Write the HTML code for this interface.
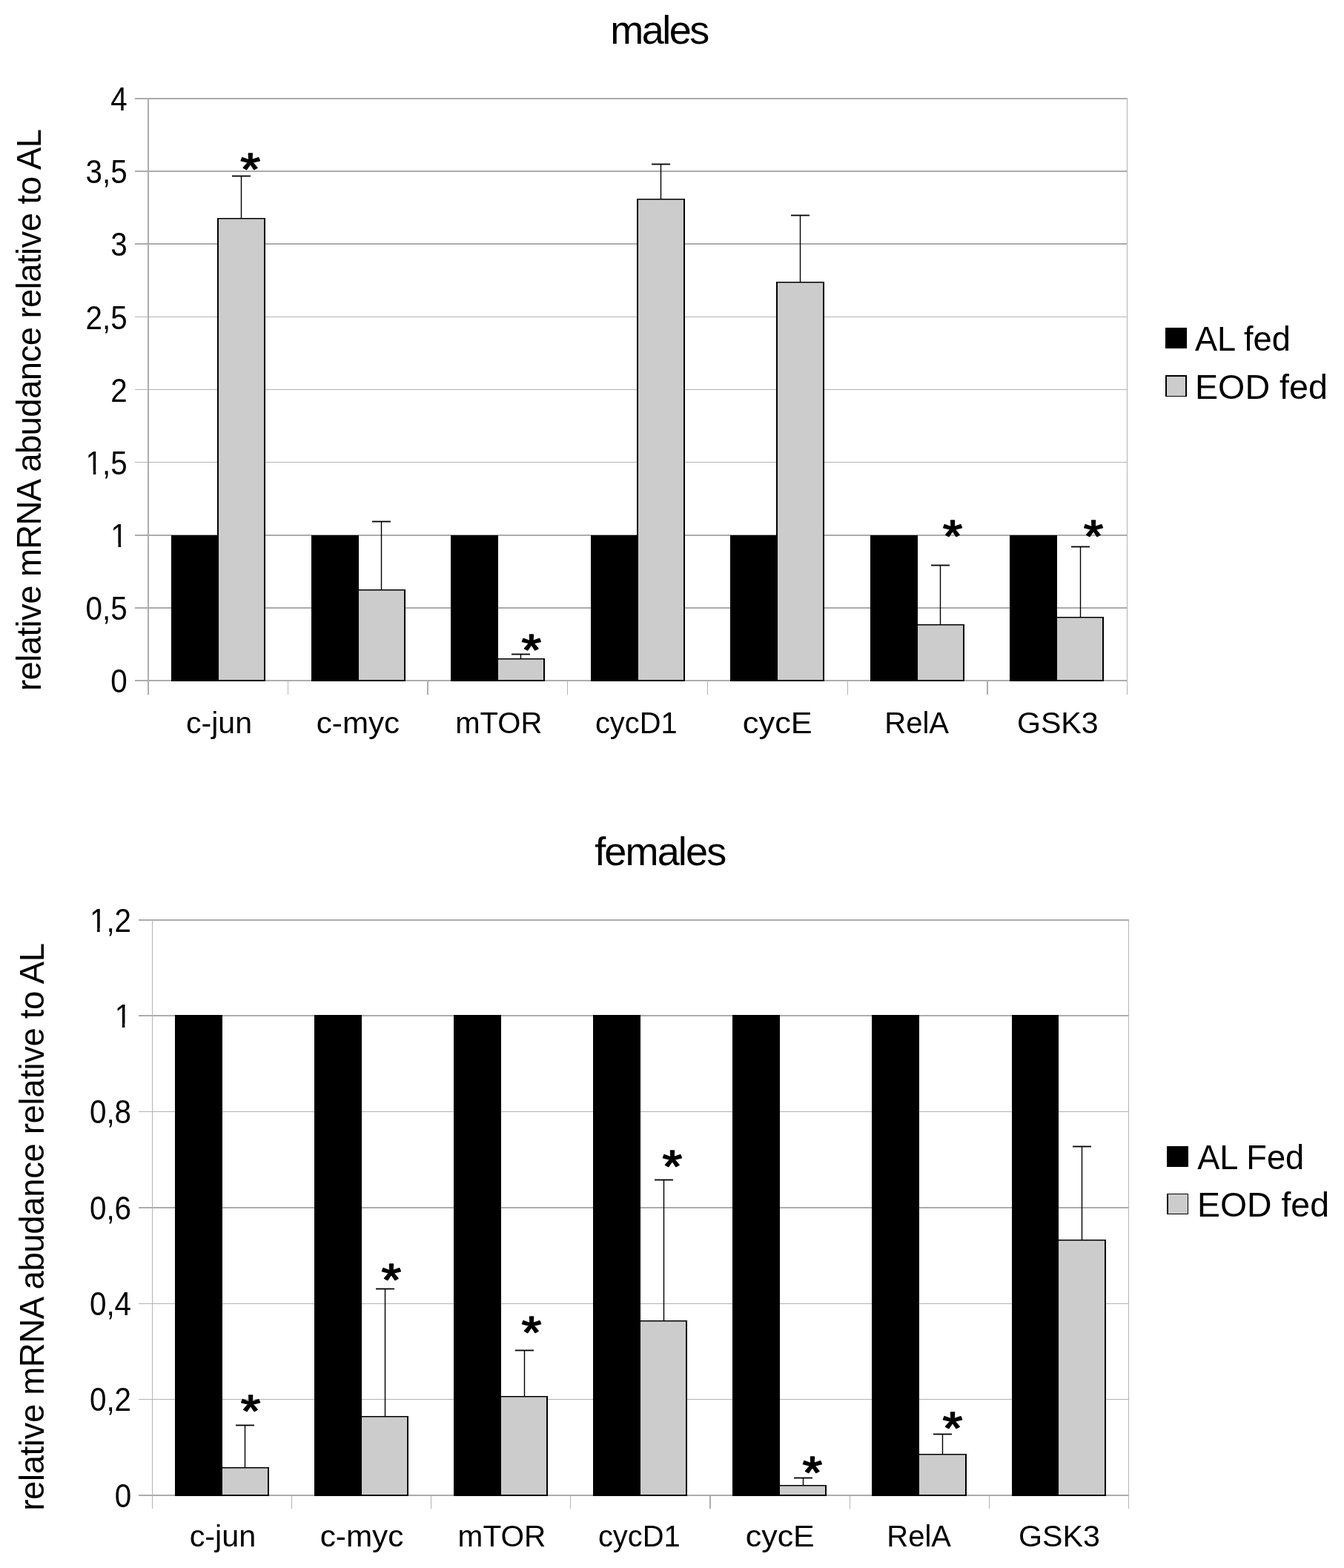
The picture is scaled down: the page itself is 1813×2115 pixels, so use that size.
<!DOCTYPE html>
<html><head><meta charset="utf-8"><title>males / females mRNA abundance</title>
<style>
html,body{margin:0;padding:0;background:#fff;}
body{width:1813px;height:2115px;overflow:hidden;}
svg{display:block;}
text{font-family:"Liberation Sans", Arial, sans-serif;fill:#000;}
</style></head>
<body>
<svg width="1813" height="2115" viewBox="0 0 1813 2115">
<rect x="0" y="0" width="1813" height="2115" fill="#fff"/>
<text x="823.21" y="58.80" font-size="54" textLength="133.94" lengthAdjust="spacing">males</text>
<text transform="translate(55.00,929.10) rotate(-90)" x="-3.02" y="0" font-size="45.5" textLength="758.13" lengthAdjust="spacing">relative mRNA abudance relative to AL</text>
<g shape-rendering="crispEdges">
<rect x="182.00" y="917.00" width="1339.00" height="2.00" fill="#acacac"/>
<rect x="182.00" y="819.00" width="1339.00" height="2.00" fill="#acacac"/>
<rect x="182.00" y="721.00" width="1339.00" height="2.00" fill="#acacac"/>
<rect x="182.00" y="623.00" width="1339.00" height="1.00" fill="#b3b3b3"/>
<rect x="182.00" y="525.00" width="1339.00" height="1.00" fill="#b3b3b3"/>
<rect x="182.00" y="427.00" width="1339.00" height="1.00" fill="#b3b3b3"/>
<rect x="182.00" y="328.00" width="1339.00" height="2.00" fill="#acacac"/>
<rect x="182.00" y="230.00" width="1339.00" height="2.00" fill="#acacac"/>
<rect x="182.00" y="132.00" width="1339.00" height="2.00" fill="#acacac"/>
<rect x="1520.00" y="132.00" width="1.00" height="805.00" fill="#b3b3b3"/>
<rect x="199.00" y="132.00" width="2.00" height="805.00" fill="#acacac"/>
<rect x="388.00" y="919.00" width="1.00" height="18.00" fill="#b3b3b3"/>
<rect x="576.00" y="919.00" width="2.00" height="18.00" fill="#acacac"/>
<rect x="765.00" y="919.00" width="1.00" height="18.00" fill="#b3b3b3"/>
<rect x="954.00" y="919.00" width="1.00" height="18.00" fill="#b3b3b3"/>
<rect x="1143.00" y="919.00" width="1.00" height="18.00" fill="#b3b3b3"/>
<rect x="1331.00" y="919.00" width="2.00" height="18.00" fill="#acacac"/>
</g>
<rect x="231.00" y="722.00" width="64.00" height="197.00" fill="#000"/>
<rect x="420.00" y="722.00" width="64.00" height="197.00" fill="#000"/>
<rect x="608.00" y="722.00" width="64.00" height="197.00" fill="#000"/>
<rect x="797.00" y="722.00" width="64.00" height="197.00" fill="#000"/>
<rect x="985.00" y="722.00" width="64.00" height="197.00" fill="#000"/>
<rect x="1174.00" y="722.00" width="64.00" height="197.00" fill="#000"/>
<rect x="1362.00" y="722.00" width="64.00" height="197.00" fill="#000"/>
<rect x="293.00" y="294.00" width="65.00" height="625.00" fill="#000"/>
<rect x="295.00" y="295.50" width="61.00" height="621.50" fill="#cccccc"/>
<line x1="325.50" y1="237.50" x2="325.50" y2="294.00" stroke="#000" stroke-width="1.4"/>
<line x1="313.00" y1="237.50" x2="338.00" y2="237.50" stroke="#000" stroke-width="1.8"/>
<rect x="482.00" y="795.00" width="65.00" height="124.00" fill="#000"/>
<rect x="484.00" y="796.50" width="61.00" height="120.50" fill="#cccccc"/>
<line x1="514.50" y1="703.50" x2="514.50" y2="795.00" stroke="#000" stroke-width="1.4"/>
<line x1="502.00" y1="703.50" x2="527.00" y2="703.50" stroke="#000" stroke-width="1.8"/>
<rect x="670.00" y="888.00" width="65.00" height="31.00" fill="#000"/>
<rect x="672.00" y="889.50" width="61.00" height="27.50" fill="#cccccc"/>
<line x1="702.50" y1="882.50" x2="702.50" y2="888.00" stroke="#000" stroke-width="1.4"/>
<line x1="690.00" y1="882.50" x2="715.00" y2="882.50" stroke="#000" stroke-width="1.8"/>
<rect x="859.00" y="268.00" width="65.00" height="651.00" fill="#000"/>
<rect x="861.00" y="269.50" width="61.00" height="647.50" fill="#cccccc"/>
<line x1="891.50" y1="221.50" x2="891.50" y2="268.00" stroke="#000" stroke-width="1.4"/>
<line x1="879.00" y1="221.50" x2="904.00" y2="221.50" stroke="#000" stroke-width="1.8"/>
<rect x="1047.00" y="380.00" width="65.00" height="539.00" fill="#000"/>
<rect x="1049.00" y="381.50" width="61.00" height="535.50" fill="#cccccc"/>
<line x1="1079.50" y1="290.50" x2="1079.50" y2="380.00" stroke="#000" stroke-width="1.4"/>
<line x1="1067.00" y1="290.50" x2="1092.00" y2="290.50" stroke="#000" stroke-width="1.8"/>
<rect x="1236.00" y="842.00" width="65.00" height="77.00" fill="#000"/>
<rect x="1238.00" y="843.50" width="61.00" height="73.50" fill="#cccccc"/>
<line x1="1268.50" y1="762.50" x2="1268.50" y2="842.00" stroke="#000" stroke-width="1.4"/>
<line x1="1256.00" y1="762.50" x2="1281.00" y2="762.50" stroke="#000" stroke-width="1.8"/>
<rect x="1424.00" y="832.00" width="65.00" height="87.00" fill="#000"/>
<rect x="1426.00" y="833.50" width="61.00" height="83.50" fill="#cccccc"/>
<line x1="1457.50" y1="737.50" x2="1457.50" y2="832.00" stroke="#000" stroke-width="1.4"/>
<line x1="1445.00" y1="737.50" x2="1470.00" y2="737.50" stroke="#000" stroke-width="1.8"/>
<text x="171.80" y="934.00" font-size="43.5" text-anchor="end" textLength="22.47" lengthAdjust="spacingAndGlyphs">0</text>
<text x="171.80" y="836.00" font-size="43.5" text-anchor="end" textLength="56.18" lengthAdjust="spacingAndGlyphs">0,5</text>
<clipPath id="c1_1"><rect x="144.33" y="694.50" width="32.47" height="38.75"/><rect x="159.49" y="729.30" width="3.57" height="9.70"/></clipPath>
<text x="171.80" y="738.00" font-size="43.5" text-anchor="end" textLength="22.47" lengthAdjust="spacingAndGlyphs" clip-path="url(#c1_1)">1</text>
<clipPath id="c1_2"><rect x="110.62" y="596.00" width="66.18" height="38.75"/><rect x="125.78" y="630.80" width="3.57" height="9.70"/><rect x="138.10" y="630.80" width="11.23" height="21.75"/><rect x="149.33" y="630.80" width="22.47" height="21.75"/></clipPath>
<text x="171.80" y="639.50" font-size="43.5" text-anchor="end" textLength="56.18" lengthAdjust="spacingAndGlyphs" clip-path="url(#c1_2)">1,5</text>
<text x="171.80" y="541.50" font-size="43.5" text-anchor="end" textLength="22.47" lengthAdjust="spacingAndGlyphs">2</text>
<text x="171.80" y="443.50" font-size="43.5" text-anchor="end" textLength="56.18" lengthAdjust="spacingAndGlyphs">2,5</text>
<text x="171.80" y="345.00" font-size="43.5" text-anchor="end" textLength="22.47" lengthAdjust="spacingAndGlyphs">3</text>
<text x="171.80" y="247.00" font-size="43.5" text-anchor="end" textLength="56.18" lengthAdjust="spacingAndGlyphs">3,5</text>
<text x="171.80" y="149.00" font-size="43.5" text-anchor="end" textLength="22.47" lengthAdjust="spacingAndGlyphs">4</text>
<text x="251.06" y="988.50" font-size="41.5" textLength="88.91" lengthAdjust="spacingAndGlyphs">c-jun</text>
<text x="426.81" y="988.50" font-size="41.5" textLength="112.30" lengthAdjust="spacingAndGlyphs">c-myc</text>
<text x="614.16" y="988.50" font-size="41.5" textLength="117.19" lengthAdjust="spacingAndGlyphs">mTOR</text>
<text x="802.91" y="988.50" font-size="41.5" textLength="110.64" lengthAdjust="spacingAndGlyphs">cycD1</text>
<text x="1001.86" y="988.50" font-size="41.5" textLength="93.80" lengthAdjust="spacingAndGlyphs">cycE</text>
<text x="1193.32" y="988.50" font-size="41.5" textLength="86.76" lengthAdjust="spacingAndGlyphs">RelA</text>
<text x="1371.93" y="988.50" font-size="41.5" textLength="109.67" lengthAdjust="spacingAndGlyphs">GSK3</text>
<text x="324.38" y="248.64" font-size="60.96" stroke="#000" stroke-width="1.6" stroke-linejoin="round" textLength="27.00" lengthAdjust="spacingAndGlyphs">*</text>
<text x="703.60" y="897.15" font-size="60.10" stroke="#000" stroke-width="1.6" stroke-linejoin="round" textLength="26.68" lengthAdjust="spacingAndGlyphs">*</text>
<text x="1271.70" y="743.83" font-size="61.24" stroke="#000" stroke-width="1.6" stroke-linejoin="round" textLength="26.57" lengthAdjust="spacingAndGlyphs">*</text>
<text x="1461.70" y="743.83" font-size="61.24" stroke="#000" stroke-width="1.6" stroke-linejoin="round" textLength="26.57" lengthAdjust="spacingAndGlyphs">*</text>
<rect x="1572.00" y="442.00" width="29.00" height="28.00" fill="#000"/>
<rect x="1572.00" y="506.00" width="29.00" height="29.00" fill="#000"/>
<rect x="1574.00" y="508.00" width="25.00" height="26.00" fill="#cccccc"/>
<text x="1611.91" y="472.70" font-size="46.5" textLength="128.96" lengthAdjust="spacingAndGlyphs">AL fed</text>
<text x="1611.97" y="538.00" font-size="46.5" textLength="178.93" lengthAdjust="spacingAndGlyphs">EOD fed</text>
<text x="802.14" y="1167.00" font-size="54" textLength="178.02" lengthAdjust="spacing">females</text>
<text transform="translate(59.00,2034.80) rotate(-90)" x="-3.02" y="0" font-size="45.5" textLength="765.93" lengthAdjust="spacing">relative mRNA abudance relative to AL</text>
<g shape-rendering="crispEdges">
<rect x="187.00" y="2016.00" width="1336.00" height="2.00" fill="#acacac"/>
<rect x="187.00" y="1887.00" width="1336.00" height="1.00" fill="#b3b3b3"/>
<rect x="187.00" y="1758.00" width="1336.00" height="1.00" fill="#b3b3b3"/>
<rect x="187.00" y="1628.00" width="1336.00" height="2.00" fill="#acacac"/>
<rect x="187.00" y="1499.00" width="1336.00" height="1.00" fill="#b3b3b3"/>
<rect x="187.00" y="1369.00" width="1336.00" height="2.00" fill="#acacac"/>
<rect x="187.00" y="1240.00" width="1336.00" height="2.00" fill="#acacac"/>
<rect x="1522.00" y="1240.00" width="1.00" height="795.00" fill="#b3b3b3"/>
<rect x="205.00" y="1240.00" width="1.00" height="795.00" fill="#b3b3b3"/>
<rect x="393.00" y="2018.00" width="1.00" height="17.00" fill="#b3b3b3"/>
<rect x="581.00" y="2018.00" width="1.00" height="17.00" fill="#b3b3b3"/>
<rect x="769.00" y="2018.00" width="1.00" height="17.00" fill="#b3b3b3"/>
<rect x="957.00" y="2018.00" width="2.00" height="17.00" fill="#acacac"/>
<rect x="1146.00" y="2018.00" width="1.00" height="17.00" fill="#b3b3b3"/>
<rect x="1334.00" y="2018.00" width="1.00" height="17.00" fill="#b3b3b3"/>
</g>
<rect x="236.00" y="1369.00" width="64.00" height="649.00" fill="#000"/>
<rect x="424.00" y="1369.00" width="64.00" height="649.00" fill="#000"/>
<rect x="612.00" y="1369.00" width="64.00" height="649.00" fill="#000"/>
<rect x="800.00" y="1369.00" width="64.00" height="649.00" fill="#000"/>
<rect x="988.00" y="1369.00" width="64.00" height="649.00" fill="#000"/>
<rect x="1176.00" y="1369.00" width="64.00" height="649.00" fill="#000"/>
<rect x="1365.00" y="1369.00" width="63.00" height="649.00" fill="#000"/>
<rect x="298.00" y="1979.00" width="65.00" height="39.00" fill="#000"/>
<rect x="300.00" y="1980.50" width="61.00" height="35.50" fill="#cccccc"/>
<line x1="330.50" y1="1922.50" x2="330.50" y2="1979.00" stroke="#000" stroke-width="1.4"/>
<line x1="318.00" y1="1922.50" x2="343.00" y2="1922.50" stroke="#000" stroke-width="1.8"/>
<rect x="486.00" y="1910.00" width="65.00" height="108.00" fill="#000"/>
<rect x="488.00" y="1911.50" width="61.00" height="104.50" fill="#cccccc"/>
<line x1="519.50" y1="1738.50" x2="519.50" y2="1910.00" stroke="#000" stroke-width="1.4"/>
<line x1="507.00" y1="1738.50" x2="532.00" y2="1738.50" stroke="#000" stroke-width="1.8"/>
<rect x="674.00" y="1883.00" width="65.00" height="135.00" fill="#000"/>
<rect x="676.00" y="1884.50" width="61.00" height="131.50" fill="#cccccc"/>
<line x1="707.50" y1="1821.50" x2="707.50" y2="1883.00" stroke="#000" stroke-width="1.4"/>
<line x1="695.00" y1="1821.50" x2="720.00" y2="1821.50" stroke="#000" stroke-width="1.8"/>
<rect x="862.00" y="1781.00" width="65.00" height="237.00" fill="#000"/>
<rect x="864.00" y="1782.50" width="61.00" height="233.50" fill="#cccccc"/>
<line x1="895.50" y1="1591.50" x2="895.50" y2="1781.00" stroke="#000" stroke-width="1.4"/>
<line x1="883.00" y1="1591.50" x2="908.00" y2="1591.50" stroke="#000" stroke-width="1.8"/>
<rect x="1050.00" y="2003.00" width="65.00" height="15.00" fill="#000"/>
<rect x="1052.00" y="2004.50" width="61.00" height="11.50" fill="#cccccc"/>
<line x1="1083.50" y1="1993.50" x2="1083.50" y2="2003.00" stroke="#000" stroke-width="1.4"/>
<line x1="1071.00" y1="1993.50" x2="1096.00" y2="1993.50" stroke="#000" stroke-width="1.8"/>
<rect x="1238.00" y="1961.00" width="66.00" height="57.00" fill="#000"/>
<rect x="1240.00" y="1962.50" width="62.00" height="53.50" fill="#cccccc"/>
<line x1="1271.50" y1="1934.50" x2="1271.50" y2="1961.00" stroke="#000" stroke-width="1.4"/>
<line x1="1259.00" y1="1934.50" x2="1284.00" y2="1934.50" stroke="#000" stroke-width="1.8"/>
<rect x="1426.00" y="1672.00" width="66.00" height="346.00" fill="#000"/>
<rect x="1428.00" y="1673.50" width="62.00" height="342.50" fill="#cccccc"/>
<line x1="1459.50" y1="1546.50" x2="1459.50" y2="1672.00" stroke="#000" stroke-width="1.4"/>
<line x1="1447.00" y1="1546.50" x2="1472.00" y2="1546.50" stroke="#000" stroke-width="1.8"/>
<text x="177.10" y="2032.50" font-size="43.5" text-anchor="end" textLength="22.47" lengthAdjust="spacingAndGlyphs">0</text>
<text x="177.10" y="1903.00" font-size="43.5" text-anchor="end" textLength="56.18" lengthAdjust="spacingAndGlyphs">0,2</text>
<text x="177.10" y="1774.00" font-size="43.5" text-anchor="end" textLength="56.18" lengthAdjust="spacingAndGlyphs">0,4</text>
<text x="177.10" y="1644.50" font-size="43.5" text-anchor="end" textLength="56.18" lengthAdjust="spacingAndGlyphs">0,6</text>
<text x="177.10" y="1515.00" font-size="43.5" text-anchor="end" textLength="56.18" lengthAdjust="spacingAndGlyphs">0,8</text>
<clipPath id="c1_3"><rect x="149.63" y="1342.00" width="32.47" height="38.75"/><rect x="164.79" y="1376.80" width="3.57" height="9.70"/></clipPath>
<text x="177.10" y="1385.50" font-size="43.5" text-anchor="end" textLength="22.47" lengthAdjust="spacingAndGlyphs" clip-path="url(#c1_3)">1</text>
<clipPath id="c1_4"><rect x="115.92" y="1213.00" width="66.18" height="38.75"/><rect x="131.08" y="1247.80" width="3.57" height="9.70"/><rect x="143.40" y="1247.80" width="11.23" height="21.75"/><rect x="154.63" y="1247.80" width="22.47" height="21.75"/></clipPath>
<text x="177.10" y="1256.50" font-size="43.5" text-anchor="end" textLength="56.18" lengthAdjust="spacingAndGlyphs" clip-path="url(#c1_4)">1,2</text>
<text x="255.64" y="2086.00" font-size="41.5" textLength="89.64" lengthAdjust="spacingAndGlyphs">c-jun</text>
<text x="431.70" y="2086.00" font-size="41.5" textLength="112.71" lengthAdjust="spacingAndGlyphs">c-myc</text>
<text x="617.62" y="2086.00" font-size="41.5" textLength="118.65" lengthAdjust="spacingAndGlyphs">mTOR</text>
<text x="806.91" y="2086.00" font-size="41.5" textLength="110.64" lengthAdjust="spacingAndGlyphs">cycD1</text>
<text x="1005.78" y="2086.00" font-size="41.5" textLength="92.97" lengthAdjust="spacingAndGlyphs">cycE</text>
<text x="1196.32" y="2086.00" font-size="41.5" textLength="86.66" lengthAdjust="spacingAndGlyphs">RelA</text>
<text x="1373.93" y="2086.00" font-size="41.5" textLength="109.88" lengthAdjust="spacingAndGlyphs">GSK3</text>
<text x="324.70" y="1923.64" font-size="60.67" stroke="#000" stroke-width="1.6" stroke-linejoin="round" textLength="26.68" lengthAdjust="spacingAndGlyphs">*</text>
<text x="514.59" y="1746.83" font-size="61.24" stroke="#000" stroke-width="1.6" stroke-linejoin="round" textLength="26.78" lengthAdjust="spacingAndGlyphs">*</text>
<text x="703.48" y="1817.84" font-size="60.96" stroke="#000" stroke-width="1.6" stroke-linejoin="round" textLength="27.00" lengthAdjust="spacingAndGlyphs">*</text>
<text x="893.59" y="1593.54" font-size="60.67" stroke="#000" stroke-width="1.6" stroke-linejoin="round" textLength="26.78" lengthAdjust="spacingAndGlyphs">*</text>
<text x="1082.59" y="2007.13" font-size="61.53" stroke="#000" stroke-width="1.6" stroke-linejoin="round" textLength="26.78" lengthAdjust="spacingAndGlyphs">*</text>
<text x="1271.48" y="1946.64" font-size="60.67" stroke="#000" stroke-width="1.6" stroke-linejoin="round" textLength="27.00" lengthAdjust="spacingAndGlyphs">*</text>
<rect x="1574.00" y="1546.00" width="29.00" height="28.00" fill="#000"/>
<rect x="1574.00" y="1610.00" width="29.00" height="28.00" fill="#000"/>
<rect x="1576.00" y="1611.00" width="26.00" height="26.00" fill="#cccccc"/>
<text x="1615.21" y="1577.00" font-size="46.5" textLength="143.97" lengthAdjust="spacingAndGlyphs">AL Fed</text>
<text x="1614.99" y="1641.00" font-size="46.5" textLength="178.00" lengthAdjust="spacingAndGlyphs">EOD fed</text>
</svg>
</body></html>
